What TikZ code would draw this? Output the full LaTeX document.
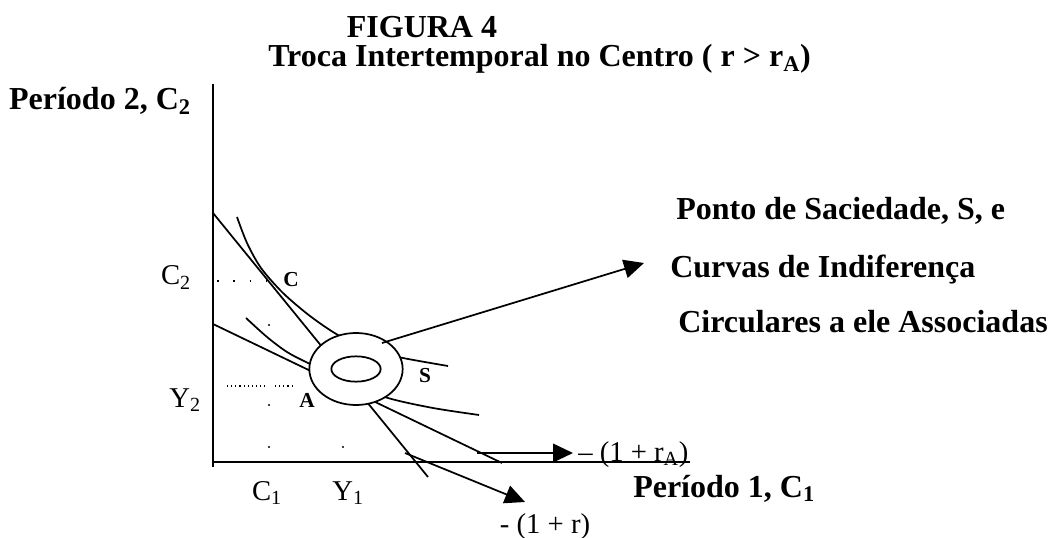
\documentclass[tikz,border=0pt]{standalone}
\usepackage{fontspec}
\setmainfont{Liberation Serif}
\usetikzlibrary{arrows.meta,positioning,shapes.geometric}
\tikzset{
  axisln/.style={line width=1.6pt},
  crv/.style={line width=1.3pt},
  arr/.style={line width=1.3pt,-{Triangle[length=15pt,width=14pt]}},
  ttl/.style={font=\fontsize{24}{28}\selectfont\bfseries,inner sep=0pt},
  pttxt/.style={font=\fontsize{16}{19}\selectfont\bfseries,inner sep=0pt},
  valtxt/.style={font=\fontsize{21.5}{25}\selectfont,inner sep=0pt},
  sparsedots/.style={line width=1.1pt,dash pattern=on 1.2pt off 11pt},
  densedots/.style={line width=1pt,dash pattern=on 0.9pt off 2.2pt},
  ring/.style={draw,ellipse,line width=1.3pt,fill=white,inner sep=0pt},
  dot/.style={circle,fill,inner sep=0pt,minimum size=1.8pt}
}

\begin{document}
\begin{tikzpicture}[x=0.75pt,y=-0.75pt]
  \useasboundingbox (0,0) rectangle (1053,538);

  \node[ttl,anchor=base] (fig) at (422,38) {FIGURA 4};
  \node[ttl,anchor=base west] (tit) at (268,67) {Troca Intertemporal no Centro ( r > r\textsubscript{A})};
  \node[ttl,anchor=base east] (yax) at (191,110) {Período 2, C\textsubscript{2}};
  \node[ttl,anchor=base west] (xax) at (633,497) {Período 1, C\textsubscript{1}};

  \coordinate (o) at (213,462);
  \draw[axisln] (213,84) -- (213,467);
  \draw[axisln] (o) -- (690,462);

  % retas orcamentarias
  \coordinate (bA0) at (213,324);
  \coordinate (bA1) at (502,463);
  \coordinate (b0) at (213,213);
  \coordinate (b1) at (428,477);
  \draw[crv] (bA0) -- (bA1);
  \draw[crv] (b0) -- (b1);

  % curvas de indiferenca
  \draw[crv] plot[smooth] coordinates {(237,217) (247,243) (261,268) (283,293) (310,316) (338,335) (370,350) (403,358) (448,366)};
  \draw[crv] plot[smooth] coordinates {(246,318) (267,337) (287,352) (308,363) (350,383) (388,398) (433,408) (479,415)};

  \node[ring,minimum width=70pt,minimum height=54pt] (sat) at (356,369) {};
  \node[ring,minimum width=37pt,minimum height=19pt] (satin) at (356,369) {};

  \node[pttxt,anchor=center] (ptC) at (291,280) {C};
  \node[pttxt,anchor=center] (ptA) at (307,400) {A};
  \node[pttxt,anchor=center] (ptS) at (425,376) {S};

  \draw[sparsedots] (217,281) -- (268,281);
  \draw[densedots] (227,386) -- (266,386);
  \draw[densedots] (275,386) -- (293,386);
  \node[dot] (d1) at (269,325) {};
  \node[dot] (d2) at (269,405) {};
  \node[dot] (d3) at (269,447) {};
  \node[dot] (d4) at (343,447) {};

  \node[valtxt,anchor=base] (c2) at (176,285) {C\textsubscript{2}};
  \node[valtxt,anchor=base] (y2) at (185,407) {Y\textsubscript{2}};
  \node[valtxt,anchor=base] (c1) at (267,500) {C\textsubscript{1}};
  \node[valtxt,anchor=base] (y1) at (348,500) {Y\textsubscript{1}};

  % inclinacoes
  \node[valtxt,anchor=base west] (slA) at (578,461) {– (1 + r\textsubscript{A})};
  \node[valtxt,anchor=base] (sl) at (545,533) {- (1 + r)};
  \coordinate (slAfrom) at (477,453);
  \coordinate (slAto) at (573,453);
  \coordinate (slfrom) at (405,453);
  \coordinate (slto) at (525,502);
  \draw[arr] (slAfrom) -- (slAto);
  \draw[arr] (slfrom) -- (slto);

  \node[ttl,anchor=base west] (tx1) at (676,220) {Ponto de Saciedade, S, e};
  \node[ttl,anchor=base west] (tx2) at (670,277) {Curvas de Indiferença};
  \node[ttl,anchor=base west] (tx3) at (678,333) {Circulares a ele Associadas};
  \coordinate (satfrom) at (382,343);
  \coordinate (satto) at (644,263);
  \draw[arr] (satfrom) -- (satto);
\end{tikzpicture}
\end{document}
